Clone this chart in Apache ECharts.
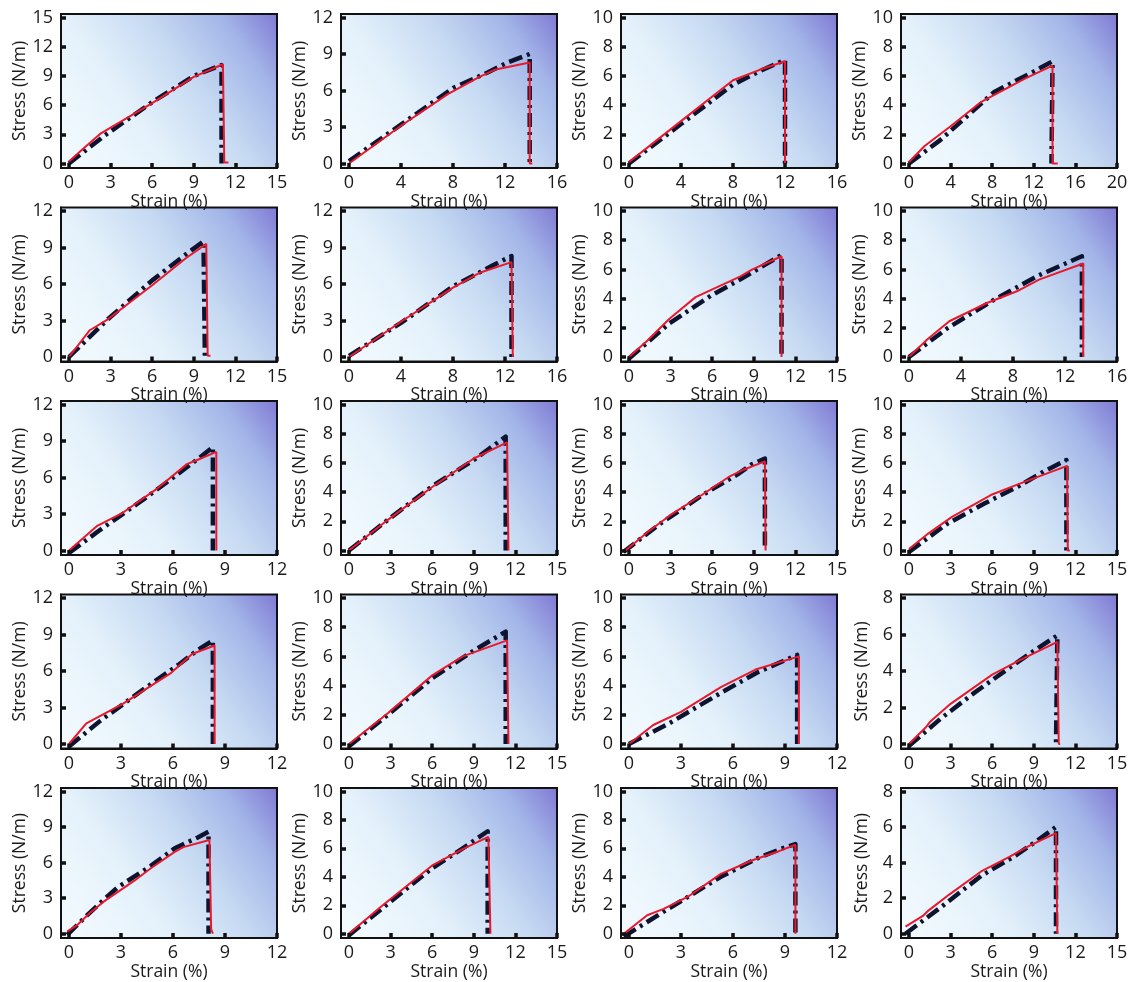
<!DOCTYPE html>
<html><head><meta charset="utf-8">
<script src="https://cdn.jsdelivr.net/npm/echarts@6/dist/echarts.min.js"></script>
<style>html,body{margin:0;padding:0;background:#fff}#c{width:1131px;height:982px}</style>
</head><body><div id="c"></div>
<script>
// axis ranges per panel (row-major, 5 rows x 4 cols)
const xMaxs  = [15,16,16,20, 15,16,15,16, 12,15,15,15, 12,15,12,15, 12,15,12,15];
const xSteps = [3,4,4,4, 3,4,3,4, 3,3,3,3, 3,3,3,3, 3,3,3,3];
const yMaxs  = [15,12,10,10, 12,12,10,10, 12,10,10,10, 12,10,10,8, 12,10,10,8];
const ySteps = [3,3,2,2, 3,3,2,2, 3,2,2,2, 3,2,2,2, 3,2,2,2];

// black dash-dot curves
const black01 = [[0,0],[2.5,2.8],[6,6.3],[9,9.0],[11,10.1],[11,0]];
const black02 = [[0,0.2],[4,3.2],[8,6.2],[10.7,7.5],[12.2,8.3],[13.9,9.0],[13.9,0]];
const black03 = [[0,0],[4,2.7],[8,5.4],[10,6.3],[12,7.1],[12,0]];
const black04 = [[0,0],[3,1.6],[8.2,4.9],[12,6.3],[13.8,7.0],[13.7,0]];
const black05 = [[0,0],[2.8,3.1],[6,6.3],[8.5,8.5],[9.7,9.5],[9.8,0]];
const black06 = [[0,0.1],[4,2.8],[8,5.8],[11,7.5],[12.5,8.3],[12.5,0]];
const black07 = [[0,-0.1],[2.9,2.3],[5.9,4.2],[8,5.3],[8.9,5.8],[11,7.0],[11,0]];
const black08 = [[0,0],[3,2.0],[6.5,3.9],[10,5.6],[13.3,6.9],[13.3,0]];
const black09 = [[0,-0.2],[1.8,1.7],[4.4,4.3],[6.3,6.3],[7.5,7.6],[8.3,8.5],[8.3,0]];
const black10 = [[0,0],[2.8,2.1],[6,4.4],[9,6.2],[11.3,7.8],[11.3,0]];
const black11 = [[-0.4,-0.1],[2.2,1.8],[5.3,3.8],[7.8,5.2],[8.85,5.9],[9.8,6.3],[9.8,0]];
const black12 = [[0,-0.1],[2.7,1.8],[5.4,3.2],[7.9,4.4],[9.7,5.4],[11.35,6.2],[11.35,0]];
const black13 = [[0,-0.2],[1.8,1.9],[4.4,4.6],[6.3,6.5],[7.4,7.7],[8.3,8.5],[8.3,0]];
const black14 = [[0,-0.15],[2.8,2.0],[6,4.5],[9,6.4],[11.3,7.7],[11.3,0]];
const black15 = [[0,0],[2.3,1.4],[5.3,3.5],[7.4,4.9],[9.7,6.1],[9.7,0]];
const black16 = [[0,-0.1],[2.3,1.4],[4.7,2.8],[7.1,4.1],[9,5.1],[10.7,5.95],[10.6,0]];
const black17 = [[-0.1,-0.1],[1,1.5],[1.8,2.6],[2.8,3.9],[4.7,5.7],[6.1,7.2],[7.4,8.1],[8.05,8.6],[8.05,0]];
const black18 = [[0,-0.1],[2.8,2.1],[6,4.6],[8.2,6.0],[10,7.2],[10,0]];
const black19 = [[-0.3,-0.2],[2.2,1.7],[5.3,4.0],[7.4,5.3],[8.85,6.0],[9.6,6.3],[9.6,0]];
const black20 = [[-0.25,0],[2.4,1.55],[5.2,3.25],[7.7,4.4],[9,5.1],[10.6,6.0],[10.6,0]];

// red solid curves
const red01 = [[0,0.2],[1,1.5],[2.3,3.1],[6,6.2],[9,8.9],[11.1,10.2],[11.2,0.1],[11.5,0.1]];
const red02 = [[0,0],[4,3.1],[7.6,5.7],[10,7.1],[11.2,7.7],[13.9,8.3],[13.9,0],[14.1,0]];
const red03 = [[0,0.1],[2,1.5],[4,2.9],[8,5.7],[10,6.4],[12,7.0],[12,0]];
const red04 = [[0,0.1],[1.5,1.2],[4,2.55],[6.9,4.2],[11.1,5.8],[13.8,6.7],[13.8,0],[14.3,0]];
const red05 = [[0,0],[1.5,2.2],[2.8,3.1],[6,5.9],[8.4,8.1],[9.9,9.3],[10,0.1],[10.2,0.1]];
const red06 = [[0,0],[4,2.9],[8,5.7],[10,6.9],[12.5,7.8],[12.6,0]];
const red07 = [[0,0],[1.3,1.1],[2.9,2.6],[4.8,4.1],[8,5.5],[8.9,6.0],[11,6.9],[11,0]];
const red08 = [[0,0],[1.4,1.2],[3.1,2.45],[6,3.7],[8.3,4.5],[10,5.3],[13.4,6.4],[13.4,0]];
const red09 = [[0,0],[1.6,2.0],[3.1,3.1],[5,5.0],[6.8,7.1],[7.5,7.5],[8.5,8.1],[8.5,0]];
const red10 = [[0,0],[2.8,2.1],[6,4.35],[9,6.3],[11.4,7.4],[11.5,0]];
const red11 = [[-0.25,0],[1.4,1.3],[2.95,2.4],[5.25,3.8],[7.3,5.1],[8.3,5.55],[9.8,6.1],[9.85,0]];
const red12 = [[0,0.1],[1.3,1.1],[3.1,2.3],[5.9,3.8],[7.9,4.55],[11.4,5.8],[11.45,0],[11.6,0]];
const red13 = [[0,0],[1,1.7],[3.1,3.3],[5.85,5.8],[7.1,7.4],[8.4,8.1],[8.4,0]];
const red14 = [[0,0],[2.8,2.1],[6,4.7],[8.2,6.0],[11.4,7.1],[11.5,0]];
const red15 = [[0,0],[1.4,1.3],[3,2.2],[5.3,3.9],[7.3,5.1],[9.8,6.0],[9.8,0]];
const red16 = [[0,0],[1.2,0.9],[1.5,1.2],[3,2.2],[6,3.8],[8,4.6],[10.7,5.6],[10.8,0],[10.9,0]];
const red17 = [[-0.1,0.2],[0.45,0.7],[1.2,1.75],[2,2.7],[3.75,4.45],[4.7,5.5],[6.1,6.9],[6.6,7.3],[8.1,7.9],[8.2,0.4],[8.3,0]];
const red18 = [[0,0],[2.3,1.9],[6,4.8],[8.2,5.95],[10.05,6.8],[10.2,0]];
const red19 = [[-0.3,0],[1.05,1.3],[2,1.75],[3.4,2.6],[5.3,4.2],[7.2,5.2],[8.65,5.8],[9.6,6.25],[9.6,0]];
const red20 = [[-0.25,0.4],[1,1.0],[1.4,1.3],[2.9,2.2],[5.2,3.5],[7.2,4.3],[8.7,4.95],[10.6,5.65],[10.7,0]];

const blacks = [black01,black02,black03,black04,black05,black06,black07,black08,black09,black10,
                black11,black12,black13,black14,black15,black16,black17,black18,black19,black20];
const reds = [red01,red02,red03,red04,red05,red06,red07,red08,red09,red10,
              red11,red12,red13,red14,red15,red16,red17,red18,red19,red20];

const chart = echarts.init(document.getElementById('c'), null, {renderer:'canvas'});
const FONT = 'Open Sans';
const grids = [], xAxes = [], yAxes = [], series = [];
function ticks(max, step){ const a=[]; for(let v=0; v<=max+1e-9; v+=step) a.push(+v.toFixed(6)); return a; }

for (let i = 0; i < 20; i++) {
  const r = Math.floor(i/4), c = i % 4;
  const W = 216, H = 154;
  grids.push({
    left: 61 + 280*c, top: 14 + 193.5*r, width: W, height: H,
    show: true, borderColor: '#111', borderWidth: 2, z: 0,
    backgroundColor: new echarts.graphic.LinearGradient(0, 1, 1, 0, [
      {offset: 0, color: '#f4fbfe'},
      {offset: 0.35, color: '#e4f1fb'},
      {offset: 0.6, color: '#c5d9f2'},
      {offset: 0.82, color: '#a3b5e8'},
      {offset: 1, color: '#7f78d4'}
    ])
  });
  const xm = xMaxs[i], ym = yMaxs[i];
  const xv = ticks(xm, xSteps[i]), yv = ticks(ym, ySteps[i]);
  xAxes.push({
    type: 'value', gridIndex: i, z: 5,
    min: -8*xm/208, max: xm,
    name: 'Strain (%)', nameLocation: 'middle', nameGap: 21,
    nameTextStyle: {fontFamily: FONT, fontSize: 17.5, color: '#1a1a1a'},
    axisLine: {show: true, onZero: false, lineStyle: {color: '#111', width: 2}},
    splitLine: {show: false},
    axisTick: {show: true, inside: true, length: 5, customValues: xv, lineStyle: {color: '#111', width: 3.5}},
    axisLabel: {show: true, customValues: xv, margin: 6, fontFamily: FONT, fontSize: 18, color: '#1a1a1a'}
  });
  yAxes.push({
    type: 'value', gridIndex: i, z: 5,
    min: -4.5*ym/146, max: ym + 3.5*ym/146,
    name: 'Stress (N/m)', nameLocation: 'middle', nameGap: 30,
    nameTextStyle: {fontFamily: FONT, fontSize: 17.5, color: '#1a1a1a'},
    axisLine: {show: true, onZero: false, lineStyle: {color: '#111', width: 2}},
    splitLine: {show: false},
    axisTick: {show: true, inside: true, length: 5, customValues: yv, lineStyle: {color: '#111', width: 3.5}},
    axisLabel: {show: true, customValues: yv, margin: 8, fontFamily: FONT, fontSize: 18, color: '#1a1a1a'}
  });
  series.push({
    type: 'line', xAxisIndex: i, yAxisIndex: i, data: blacks[i],
    symbol: 'none', silent: true, z: 2,
    lineStyle: {color: '#0c1430', width: 4.5, type: [14, 5, 3, 5], cap: 'butt', join: 'round'}
  });
  series.push({
    type: 'line', xAxisIndex: i, yAxisIndex: i, data: reds[i],
    symbol: 'none', silent: true, z: 3,
    lineStyle: {color: '#e8192c', width: 2}
  });
}

chart.setOption({animation: false, grid: grids, xAxis: xAxes, yAxis: yAxes, series: series});
</script>
</body></html>
